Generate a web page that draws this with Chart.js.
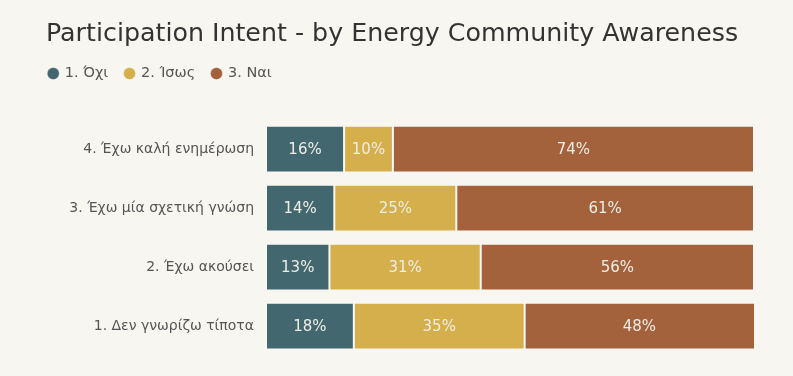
<!DOCTYPE html>
<html>
<head>
<meta charset="utf-8">
<script src="https://cdn.jsdelivr.net/npm/chart.js@4/dist/chart.umd.min.js"></script>
<style>
  html, body { margin: 0; padding: 0; background: #F8F6F1; }
  #wrap { width: 793px; height: 376px; }
</style>
</head>
<body>
<div id="wrap"><canvas id="c" width="793" height="376"></canvas></div>
<script>
// Awareness levels (top to bottom)
const categories = [
  '4. Έχω καλή ενημέρωση',
  '3. Έχω μία σχετική γνώση',
  '2. Έχω ακούσει',
  '1. Δεν γνωρίζω τίποτα'
];
const seriesNames = ['1. Όχι', '2. Ίσως', '3. Ναι'];
const noValues    = [16, 14, 13, 18];
const maybeValues = [10, 25, 31, 35];
const yesValues   = [74, 61, 56, 48];
const seriesColors = ['#43676F', '#D4AF4C', '#A3623B'];

const FONT = "'DejaVu Sans', Verdana, sans-serif";

// Percentage labels centred inside each segment
const segmentLabels = {
  id: 'segmentLabels',
  afterDatasetsDraw(chart) {
    const ctx = chart.ctx;
    const area = chart.chartArea;
    ctx.save();
    ctx.font = '15px ' + FONT;
    ctx.fillStyle = '#EEEDE6';
    ctx.textAlign = 'center';
    ctx.textBaseline = 'middle';
    chart.data.datasets.forEach((ds, di) => {
      const meta = chart.getDatasetMeta(di);
      meta.data.forEach((bar, i) => {
        const right = Math.min(bar.x, area.right);
        const left = Math.max(bar.base, area.left);
        ctx.fillText(ds.data[i] + '%', (left + right) / 2, bar.y + 1);
      });
    });
    ctx.restore();
  }
};

// Pull the legend row left so its first marker sits under the title
const legendShift = {
  id: 'legendShift',
  afterLayout(chart) {
    const lg = chart.legend;
    lg.left -= 14;
    lg.right -= 14;
  }
};

const values = [noValues, maybeValues, yesValues];

new Chart(document.getElementById('c'), {
  type: 'bar',
  data: {
    labels: categories,
    datasets: seriesNames.map((name, i) => ({
      label: name,
      data: values[i],
      backgroundColor: seriesColors[i],
      borderColor: 'rgba(255,255,255,0.35)',
      borderWidth: 1,
      borderSkipped: false,
      categoryPercentage: 1,
      barPercentage: 0.79
    }))
  },
  options: {
    indexAxis: 'y',
    responsive: false,
    animation: false,
    layout: { padding: { left: 46, right: 39, top: 19, bottom: 19.5 } },
    scales: {
      x: {
        stacked: true,
        position: 'top',
        min: 0,
        max: 100,
        ticks: { display: false },
        grid: { display: false, drawTicks: false },
        border: { display: false },
        // gap between the legend row and the first bar
        afterFit(scale) { scale.height = 28.8; }
      },
      y: {
        stacked: true,
        grid: { display: false, drawTicks: false },
        border: { display: false },
        ticks: { color: '#555', font: { family: FONT, size: 14 }, padding: 12 },
        afterFit(scale) { scale.width = 220; }
      }
    },
    plugins: {
      title: {
        display: true,
        text: 'Participation Intent - by Energy Community Awareness',
        align: 'start',
        color: '#333',
        font: { family: FONT, size: 25.3, weight: 'normal' },
        padding: { top: 0, bottom: 0 }
      },
      legend: {
        display: true,
        align: 'start',
        labels: {
          usePointStyle: true,
          pointStyle: 'circle',
          boxHeight: 8.5,
          boxWidth: 8.5,
          padding: 17,
          color: '#555',
          font: { family: FONT, size: 14.5 }
        }
      },
      tooltip: { enabled: false }
    }
  },
  plugins: [segmentLabels, legendShift]
});
</script>
</body>
</html>
